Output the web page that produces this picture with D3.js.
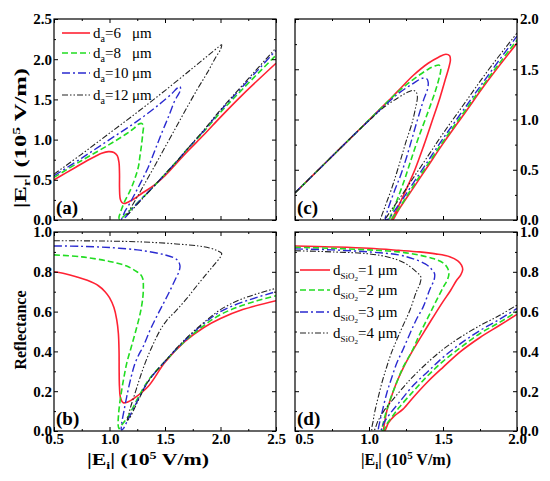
<!DOCTYPE html>
<html>
<head>
<meta charset="utf-8">
<script src="https://cdn.jsdelivr.net/npm/d3@7"></script>
<style>
  body { margin: 0; background: #fff; }
  svg { display: block; font-family: "Liberation Serif", "Times New Roman", serif; }
</style>
</head>
<body>
<svg id="chart" width="550" height="481"></svg>
<script>
// legend labels
const daLabels = ["6", "8", "10", "12"];
const sio2Labels = ["1", "2", "3", "4"];

// axis ticks
const xTicksLeft = [0.5, 1.0, 1.5, 2.0, 2.5];
const xMinorLeft = [0.75, 1.25, 1.75, 2.25];
const xTicksRight = [0.5, 1.0, 1.5, 2.0];
const xMinorRight = [0.75, 1.25, 1.75];
const erTicksA = [0, 0.5, 1.0, 1.5, 2.0, 2.5];
const erMinorA = [0.25, 0.75, 1.25, 1.75, 2.25];
const erTicksC = [0, 0.5, 1.0, 1.5, 2.0];
const erMinorC = [0.25, 0.75, 1.25, 1.75];
const reflTicks = [0, 0.2, 0.4, 0.6, 0.8, 1.0];
const reflMinor = [0.1, 0.3, 0.5, 0.7, 0.9];

// (a) |Er| vs |Ei|, d_a = 6, 8, 10, 12 um  -- points in order along each curve
const erDa6 = [[0.5,0.5],[0.6,0.58],[0.7,0.66],[0.8,0.74],[0.87,0.79],[0.93,0.83],[0.99,0.85],[1.04,0.84],[1.07,0.8],[1.085,0.72],[1.09,0.58],[1.09,0.42],[1.092,0.32],[1.097,0.26],[1.11,0.22],[1.13,0.205],[1.17,0.225],[1.23,0.27],[1.29,0.33],[1.4,0.43],[1.5,0.55],[1.6,0.7],[1.7,0.85],[1.85,1.06],[2.0,1.28],[2.2,1.56],[2.5,1.95]];
const erDa8 = [[0.5,0.53],[0.75,0.74],[1.0,0.94],[1.15,1.07],[1.22,1.14],[1.26,1.19],[1.29,1.2],[1.305,1.17],[1.3,1.08],[1.29,0.95],[1.275,0.8],[1.26,0.66],[1.23,0.52],[1.2,0.41],[1.17,0.32],[1.14,0.24],[1.11,0.14],[1.095,0.08],[1.085,0.03],[1.09,0.01],[1.11,0.025],[1.14,0.06],[1.17,0.1],[1.3,0.28],[1.4,0.42],[1.5,0.57],[1.6,0.72],[1.7,0.88],[1.85,1.1],[2.0,1.34],[2.2,1.63],[2.5,2.05]];
const erDa10 = [[0.5,0.55],[0.75,0.77],[1.0,1.0],[1.25,1.23],[1.45,1.44],[1.56,1.57],[1.61,1.64],[1.635,1.66],[1.64,1.62],[1.615,1.55],[1.59,1.49],[1.53,1.28],[1.47,1.08],[1.41,0.87],[1.35,0.66],[1.29,0.49],[1.23,0.33],[1.18,0.2],[1.14,0.11],[1.12,0.04],[1.11,0.01],[1.13,0.02],[1.16,0.06],[1.2,0.13],[1.3,0.28],[1.4,0.42],[1.5,0.57],[1.6,0.72],[1.7,0.88],[1.85,1.11],[2.0,1.36],[2.2,1.66],[2.5,2.11]];
const erDa12 = [[0.5,0.57],[0.75,0.82],[1.0,1.08],[1.25,1.34],[1.5,1.61],[1.75,1.89],[1.9,2.06],[1.98,2.15],[2.01,2.18],[2.0,2.12],[1.96,2.03],[1.88,1.83],[1.78,1.6],[1.67,1.33],[1.57,1.08],[1.47,0.83],[1.39,0.63],[1.32,0.46],[1.26,0.31],[1.2,0.17],[1.17,0.1],[1.155,0.07],[1.17,0.075],[1.2,0.12],[1.3,0.27],[1.4,0.42],[1.5,0.57],[1.6,0.72],[1.7,0.88],[1.85,1.12],[2.0,1.37],[2.2,1.68],[2.5,2.14]];

// (b) reflectance vs |Ei|, d_a = 6, 8, 10, 12 um
const reflDa6 = [[0.5,0.8],[0.6,0.79],[0.7,0.775],[0.8,0.757],[0.9,0.73],[0.96,0.7],[1.0,0.67],[1.04,0.62],[1.065,0.56],[1.08,0.49],[1.086,0.4],[1.087,0.3],[1.09,0.22],[1.1,0.165],[1.124,0.142],[1.16,0.145],[1.23,0.168],[1.35,0.225],[1.5,0.345],[1.68,0.45],[1.85,0.52],[2.0,0.565],[2.2,0.61],[2.5,0.655]];
const reflDa8 = [[0.5,0.885],[0.75,0.875],[1.0,0.852],[1.15,0.83],[1.23,0.806],[1.28,0.786],[1.3,0.765],[1.305,0.72],[1.3,0.67],[1.28,0.6],[1.24,0.51],[1.195,0.42],[1.155,0.34],[1.13,0.27],[1.11,0.206],[1.09,0.13],[1.08,0.072],[1.078,0.03],[1.085,0.012],[1.11,0.03],[1.17,0.075],[1.26,0.17],[1.35,0.255],[1.5,0.35],[1.68,0.452],[1.85,0.53],[2.0,0.585],[2.2,0.632],[2.5,0.68]];
const reflDa10 = [[0.5,0.93],[0.75,0.928],[1.0,0.922],[1.25,0.91],[1.4,0.897],[1.5,0.885],[1.575,0.872],[1.615,0.857],[1.635,0.83],[1.625,0.8],[1.6,0.77],[1.54,0.7],[1.485,0.64],[1.42,0.57],[1.36,0.5],[1.3,0.42],[1.27,0.39],[1.23,0.34],[1.19,0.26],[1.155,0.172],[1.13,0.1],[1.11,0.038],[1.108,0.005],[1.125,0.012],[1.16,0.05],[1.26,0.16],[1.35,0.25],[1.5,0.35],[1.68,0.456],[1.85,0.54],[2.0,0.6],[2.2,0.648],[2.5,0.7]];
const reflDa12 = [[0.5,0.956],[0.9,0.955],[1.3,0.95],[1.6,0.94],[1.8,0.93],[1.9,0.92],[1.97,0.906],[2.01,0.893],[2.0,0.875],[1.95,0.84],[1.875,0.79],[1.78,0.725],[1.695,0.665],[1.6,0.605],[1.515,0.555],[1.45,0.5],[1.38,0.42],[1.32,0.34],[1.27,0.26],[1.23,0.19],[1.19,0.12],[1.17,0.075],[1.16,0.055],[1.175,0.06],[1.26,0.155],[1.35,0.25],[1.5,0.35],[1.68,0.46],[1.85,0.545],[2.0,0.61],[2.2,0.665],[2.5,0.717]];

// (c) |Er| vs |Ei|, d_SiO2 = 1, 2, 3, 4 um
const erSi1 = [[0.5,0.27],[0.7,0.56],[0.9,0.85],[1.1,1.14],[1.2,1.29],[1.3,1.44],[1.4,1.56],[1.47,1.62],[1.52,1.65],[1.545,1.635],[1.55,1.59],[1.54,1.52],[1.52,1.42],[1.48,1.22],[1.43,1.0],[1.37,0.74],[1.31,0.5],[1.25,0.3],[1.2,0.14],[1.17,0.05],[1.155,0.01],[1.16,0.0],[1.2,0.1],[1.3,0.32],[1.4,0.54],[1.5,0.76],[1.65,1.07],[1.8,1.38],[2.0,1.76]];
const erSi2 = [[0.5,0.27],[0.7,0.56],[0.9,0.85],[1.1,1.14],[1.2,1.28],[1.3,1.4],[1.4,1.5],[1.45,1.535],[1.475,1.54],[1.485,1.5],[1.475,1.42],[1.45,1.29],[1.4,1.08],[1.33,0.8],[1.28,0.58],[1.24,0.4],[1.19,0.2],[1.155,0.07],[1.14,0.01],[1.145,0.0],[1.2,0.11],[1.3,0.34],[1.4,0.56],[1.5,0.78],[1.65,1.09],[1.8,1.4],[2.0,1.79]];
const erSi3 = [[0.5,0.27],[0.7,0.56],[0.9,0.85],[1.0,0.99],[1.1,1.13],[1.2,1.26],[1.3,1.36],[1.36,1.41],[1.39,1.405],[1.4,1.37],[1.395,1.3],[1.37,1.2],[1.32,0.96],[1.255,0.63],[1.215,0.45],[1.175,0.3],[1.14,0.16],[1.12,0.07],[1.11,0.01],[1.12,0.0],[1.2,0.15],[1.3,0.37],[1.4,0.59],[1.5,0.81],[1.65,1.12],[1.8,1.43],[2.0,1.83]];
const erSi4 = [[0.5,0.27],[0.7,0.56],[0.9,0.85],[1.0,0.99],[1.1,1.12],[1.2,1.22],[1.26,1.27],[1.3,1.29],[1.32,1.27],[1.327,1.22],[1.315,1.12],[1.29,0.96],[1.25,0.78],[1.22,0.63],[1.185,0.46],[1.15,0.3],[1.12,0.18],[1.1,0.1],[1.085,0.04],[1.078,0.005],[1.1,0.0],[1.15,0.1],[1.2,0.2],[1.3,0.42],[1.4,0.64],[1.5,0.86],[1.65,1.17],[1.8,1.48],[2.0,1.86]];

// (d) reflectance vs |Ei|, d_SiO2 = 1, 2, 3, 4 um
const reflSi1 = [[0.5,0.93],[0.75,0.925],[1.0,0.918],[1.2,0.908],[1.34,0.9],[1.45,0.89],[1.545,0.876],[1.6,0.855],[1.625,0.834],[1.633,0.81],[1.62,0.785],[1.59,0.755],[1.55,0.705],[1.5,0.65],[1.44,0.58],[1.39,0.52],[1.3,0.41],[1.24,0.33],[1.19,0.25],[1.15,0.17],[1.12,0.1],[1.105,0.04],[1.1,0.005],[1.11,0.005],[1.13,0.04],[1.17,0.075],[1.23,0.11],[1.3,0.17],[1.4,0.25],[1.5,0.32],[1.62,0.4],[1.75,0.47],[1.88,0.53],[2.0,0.586]];
const reflSi2 = [[0.5,0.923],[0.75,0.918],[1.0,0.91],[1.2,0.9],[1.34,0.884],[1.44,0.865],[1.5,0.845],[1.53,0.82],[1.54,0.79],[1.53,0.76],[1.5,0.72],[1.435,0.625],[1.345,0.49],[1.29,0.4],[1.232,0.323],[1.18,0.23],[1.142,0.156],[1.11,0.08],[1.097,0.04],[1.088,0.005],[1.1,0.005],[1.12,0.035],[1.16,0.075],[1.2,0.115],[1.3,0.2],[1.4,0.28],[1.5,0.35],[1.62,0.42],[1.75,0.49],[1.88,0.545],[2.0,0.6]];
const reflSi3 = [[0.5,0.915],[0.75,0.91],[1.0,0.9],[1.2,0.885],[1.3,0.865],[1.38,0.84],[1.42,0.815],[1.443,0.79],[1.44,0.76],[1.41,0.71],[1.367,0.625],[1.32,0.56],[1.277,0.49],[1.23,0.41],[1.187,0.34],[1.15,0.26],[1.12,0.19],[1.09,0.1],[1.074,0.05],[1.065,0.005],[1.08,0.005],[1.1,0.04],[1.14,0.085],[1.2,0.14],[1.3,0.23],[1.4,0.3],[1.5,0.37],[1.62,0.44],[1.75,0.505],[1.88,0.56],[2.0,0.616]];
const reflSi4 = [[0.5,0.906],[0.75,0.9],[1.0,0.89],[1.15,0.87],[1.25,0.84],[1.32,0.8],[1.35,0.775],[1.345,0.742],[1.32,0.7],[1.277,0.608],[1.23,0.53],[1.187,0.457],[1.15,0.39],[1.12,0.323],[1.09,0.25],[1.063,0.172],[1.04,0.1],[1.028,0.05],[1.02,0.005],[1.035,0.005],[1.06,0.05],[1.1,0.1],[1.164,0.16],[1.28,0.26],[1.39,0.34],[1.5,0.41],[1.615,0.47],[1.75,0.53],[1.88,0.58],[2.0,0.633]];

// line styles: red solid, green dash, blue dash-dot, black dash-dot-dot
const colors = ["#ff2233", "#22dd22", "#2a2ad0", "#222222"];
const dashes = [null, "6,3", "8,3,2,3", "6,2,1.5,2,1.5,2"];
const widths = [1.6, 1.6, 1.4, 1.1];

const svg = d3.select("#chart");
const fmt = d3.format(".1f");

function styleAxis(sel) {
  sel.attr("font-family", "Liberation Serif, Times New Roman, serif")
    .attr("font-size", 15)
    .attr("font-weight", "bold");
  sel.select(".domain").remove();
  sel.selectAll("line").attr("stroke", "#000").attr("stroke-width", 1);
  sel.selectAll("text").attr("fill", "#000");
}

function drawPanel(p) {
  const w = p.right - p.left, h = p.bottom - p.top;
  const g = svg.append("g").attr("transform", `translate(${p.left},${p.top})`);
  const x = d3.scaleLinear().domain(p.xDomain).range([0, w]);
  const y = d3.scaleLinear().domain(p.yDomain).range([h, 0]);

  g.append("clipPath").attr("id", "clip-" + p.name)
    .append("rect").attr("width", w).attr("height", h);

  const line = d3.line()
    .x(d => x(d[0]))
    .y(d => y(d[1]))
    .curve(d3.curveCatmullRom.alpha(0.5));

  p.series.forEach((s, i) => {
    g.append("path")
      .attr("clip-path", `url(#clip-${p.name})`)
      .attr("d", line(s))
      .attr("fill", "none")
      .attr("stroke", colors[i])
      .attr("stroke-width", widths[i])
      .attr("stroke-dasharray", dashes[i]);
  });

  // inward ticks on all four sides, labels only where the reference has them
  g.append("g").attr("transform", `translate(0,${h})`)
    .call(d3.axisBottom(x).tickValues(p.xMajor).tickSize(-4).tickPadding(2)
      .tickFormat(p.labelBottom ? fmt : ""))
    .call(styleAxis)
    .call(a => { if (p.firstXShift) a.select(".tick text").attr("dx", p.firstXShift); });
  g.append("g").attr("transform", `translate(0,${h})`)
    .call(d3.axisBottom(x).tickValues(p.xMinor).tickSize(-2).tickFormat(""))
    .call(styleAxis);
  g.append("g")
    .call(d3.axisTop(x).tickValues(p.xMajor).tickSize(-4).tickFormat(""))
    .call(styleAxis);
  g.append("g")
    .call(d3.axisTop(x).tickValues(p.xMinor).tickSize(-2).tickFormat(""))
    .call(styleAxis);

  g.append("g")
    .call(d3.axisLeft(y).tickValues(p.yMajor).tickSize(-4).tickPadding(2)
      .tickFormat(p.labelSide === "left" ? fmt : ""))
    .call(styleAxis);
  g.append("g")
    .call(d3.axisLeft(y).tickValues(p.yMinor).tickSize(-2).tickFormat(""))
    .call(styleAxis);
  g.append("g").attr("transform", `translate(${w},0)`)
    .call(d3.axisRight(y).tickValues(p.yMajor).tickSize(-4).tickPadding(3)
      .tickFormat(p.labelSide === "right" ? fmt : ""))
    .call(styleAxis);
  g.append("g").attr("transform", `translate(${w},0)`)
    .call(d3.axisRight(y).tickValues(p.yMinor).tickSize(-2).tickFormat(""))
    .call(styleAxis);

  g.append("rect")
    .attr("width", w).attr("height", h)
    .attr("fill", "none").attr("stroke", "#000").attr("stroke-width", 1.2);

  g.append("text")
    .attr("x", 2).attr("y", h - 6)
    .attr("font-size", 19).attr("font-weight", "bold")
    .text(p.tag);
  return g;
}

const panels = [
  { name: "a", tag: "(a)", left: 54, top: 19, right: 276, bottom: 220,
    xDomain: [0.5, 2.5], yDomain: [0, 2.5], xMajor: xTicksLeft, xMinor: xMinorLeft,
    yMajor: erTicksA, yMinor: erMinorA, labelBottom: false, labelSide: "left",
    series: [erDa6, erDa8, erDa10, erDa12] },
  { name: "b", tag: "(b)", left: 54, top: 232, right: 276, bottom: 431,
    xDomain: [0.5, 2.5], yDomain: [0, 1], xMajor: xTicksLeft, xMinor: xMinorLeft,
    yMajor: reflTicks, yMinor: reflMinor, labelBottom: true, labelSide: "left",
    series: [reflDa6, reflDa8, reflDa10, reflDa12] },
  { name: "c", tag: "(c)", left: 295, top: 19, right: 517, bottom: 220,
    xDomain: [0.5, 2.0], yDomain: [0, 2.0], xMajor: xTicksRight, xMinor: xMinorRight,
    yMajor: erTicksC, yMinor: erMinorC, labelBottom: false, labelSide: "right",
    series: [erSi1, erSi2, erSi3, erSi4] },
  { name: "d", tag: "(d)", left: 295, top: 232, right: 517, bottom: 431,
    xDomain: [0.5, 2.0], yDomain: [0, 1], xMajor: xTicksRight, xMinor: xMinorRight,
    yMajor: reflTicks, yMinor: reflMinor, labelBottom: true, labelSide: "right",
    firstXShift: 9, series: [reflSi1, reflSi2, reflSi3, reflSi4] }
];

const groups = panels.map(drawPanel);

// legend (a)
const legA = groups[0];
daLabels.forEach((lab, i) => {
  const ly = [14, 34, 54, 76][i];
  legA.append("line")
    .attr("x1", 8).attr("x2", 36).attr("y1", ly).attr("y2", ly)
    .attr("stroke", colors[i]).attr("stroke-width", widths[i])
    .attr("stroke-dasharray", dashes[i]);
  const t = legA.append("text").attr("x", 39).attr("y", ly + 5).attr("font-size", 15);
  t.append("tspan").text("d");
  t.append("tspan").attr("font-size", 10).attr("dy", 4).text("a");
  t.append("tspan").attr("dy", -4).text("=" + lab);
  legA.append("text").attr("x", 78).attr("y", ly + 5).attr("font-size", 15).text("μm");
});

// legend (d)
const legD = groups[3];
sio2Labels.forEach((lab, i) => {
  const ly = [38, 58, 80, 101][i];
  legD.append("line")
    .attr("x1", 5).attr("x2", 35).attr("y1", ly).attr("y2", ly)
    .attr("stroke", colors[i]).attr("stroke-width", widths[i])
    .attr("stroke-dasharray", dashes[i]);
  const t = legD.append("text").attr("x", 38).attr("y", ly + 5).attr("font-size", 15);
  t.append("tspan").text("d");
  t.append("tspan").attr("font-size", 9).attr("dy", 4).text("SiO");
  t.append("tspan").attr("font-size", 7).attr("dy", 2).text("2");
  t.append("tspan").attr("dy", -6).text("=" + lab + " μm");
});

// axis titles
function eLabel(sel, sub) {
  sel.append("tspan").text("|E");
  sel.append("tspan").attr("font-size", 11).attr("dy", 4).text(sub);
  sel.append("tspan").attr("dy", -4).text("| (10");
  sel.append("tspan").attr("font-size", 11).attr("dy", -6).text("5");
  sel.append("tspan").attr("dy", 6).text(" V/m)");
}

svg.append("text")
  .attr("transform", "translate(26,138) rotate(-90)")
  .attr("text-anchor", "middle").attr("font-size", 17).attr("font-weight", "bold")
  .attr("textLength", 140).attr("lengthAdjust", "spacingAndGlyphs")
  .call(eLabel, "r");

svg.append("text")
  .attr("transform", "translate(26,330) rotate(-90)")
  .attr("text-anchor", "middle").attr("font-size", 16).attr("font-weight", "bold")
  .text("Reflectance");

svg.append("text")
  .attr("x", 148).attr("y", 465)
  .attr("text-anchor", "middle").attr("font-size", 17).attr("font-weight", "bold")
  .attr("textLength", 122).attr("lengthAdjust", "spacingAndGlyphs")
  .call(eLabel, "i");

svg.append("text")
  .attr("x", 406).attr("y", 465)
  .attr("text-anchor", "middle").attr("font-size", 16).attr("font-weight", "bold")
  .call(eLabel, "i");
</script>
</body>
</html>
